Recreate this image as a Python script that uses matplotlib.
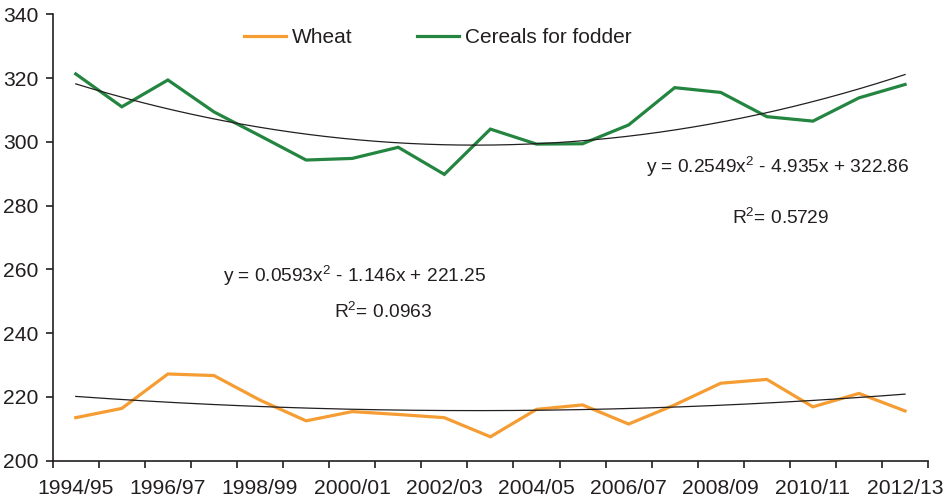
import numpy as np
import matplotlib
matplotlib.use("Agg")
import matplotlib.pyplot as plt

plt.rcParams['font.family'] = ['Liberation Sans', 'DejaVu Sans']
plt.rcParams['mathtext.fontset'] = 'custom'
plt.rcParams['mathtext.rm'] = 'Liberation Sans'
plt.rcParams['mathtext.it'] = 'Liberation Sans'
plt.rcParams['mathtext.bf'] = 'Liberation Sans'

seasons = ["1994/95", "1995/96", "1996/97", "1997/98", "1998/99", "1999/00",
           "2000/01", "2001/02", "2002/03", "2003/04", "2004/05", "2005/06",
           "2006/07", "2007/08", "2008/09", "2009/10", "2010/11", "2011/12",
           "2012/13"]
wheat = [213.5, 216.4, 227.2, 226.7, 219.0, 212.5, 215.4, 214.5, 213.5, 207.5,
         216.1, 217.5, 211.5, 217.5, 224.3, 225.5, 216.9, 221.1, 215.6]
fodder = [321.3, 311.0, 319.4, 309.4, 301.9, 294.3, 294.8, 298.3, 289.8, 304.0,
          299.3, 299.4, 305.3, 317.0, 315.5, 307.9, 306.5, 313.8, 318.0]
wheat_trend_coef = [0.0593, -1.146, 221.25]
fodder_trend_coef = [0.2549, -4.935, 322.86]
wheat_eq = r"y = 0.0593x$^{\mathrm{2}}$ - 1.146x + 221.25"
wheat_r2 = r"R$^{\mathrm{2}}$= 0.0963"
fodder_eq = r"y = 0.2549x$^{\mathrm{2}}$ - 4.935x + 322.86"
fodder_r2 = r"R$^{\mathrm{2}}$= 0.5729"
yticks = [200, 220, 240, 260, 280, 300, 320, 340]

TXT = '#231f20'
ORANGE = '#f59d33'
GREEN = '#238540'

fig = plt.figure(figsize=(9.48, 5.04), dpi=100)
ax = fig.add_axes([0.0556, 0.0859, 0.9234, 0.8857])

idx = np.arange(len(seasons))
ax.plot(idx, wheat, color=ORANGE, lw=2.3, label="Wheat", solid_joinstyle='miter', zorder=3)
ax.plot(idx, fodder, color=GREEN, lw=2.3, label="Cereals for fodder", solid_joinstyle='miter', zorder=3)

xs = np.linspace(1, len(seasons), 200)
ax.plot(xs - 1, np.polyval(wheat_trend_coef, xs), color='#231f20', lw=0.9, zorder=4)
ax.plot(xs - 1, np.polyval(fodder_trend_coef, xs), color='#231f20', lw=0.9, zorder=4)

ax.set_xlim(-0.5, len(seasons) - 0.5)
ax.set_ylim(200, 340)
ax.set_yticks(yticks)
ax.set_yticklabels([str(v) for v in yticks])

ax.set_xticks(idx[::2])
ax.set_xticklabels(seasons[::2])
ax.set_xticks(np.arange(-0.5, len(seasons)), minor=True)
ax.tick_params(axis='x', which='major', length=0, pad=13, labelsize=15.2, colors=TXT)
ax.tick_params(axis='x', which='minor', length=5, width=1.2, color=TXT, direction='out')
ax.tick_params(axis='y', length=5, width=1.2, color=TXT, labelsize=15.2, labelcolor=TXT, pad=5)

for s in ['top', 'right']:
    ax.spines[s].set_visible(False)
for s in ['left', 'bottom']:
    ax.spines[s].set_color(TXT)
    ax.spines[s].set_linewidth(1.2)

FS = 13.8
ax.text(12.385, 290.3, fodder_eq, ha='left', va='baseline', fontsize=FS, color=TXT)
ax.text(14.25, 274.2, fodder_r2, ha='left', va='baseline', fontsize=FS, color=TXT)
ax.text(3.19, 256.1, wheat_eq, ha='left', va='baseline', fontsize=FS, color=TXT)
ax.text(5.61, 244.8, wheat_r2, ha='left', va='baseline', fontsize=FS, color=TXT)

leg = ax.legend(loc='center', bbox_to_anchor=(0.44, 0.947), ncol=2, frameon=False,
                fontsize=15, handlelength=2.0, handletextpad=0.3, columnspacing=3.1)
for t in leg.get_texts():
    t.set_color(TXT)

fig.savefig("out.png", dpi=100)
